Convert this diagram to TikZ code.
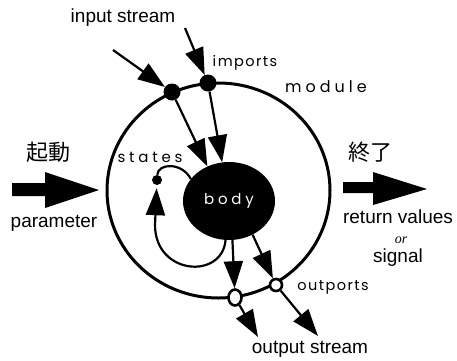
\documentclass[tikz,border=0pt]{standalone}
\usepackage{fontspec}
\setmainfont{Liberation Sans}
\newfontfamily\geo[LetterSpace=25]{Poppins}
\newfontfamily\geonarrow[LetterSpace=10]{Poppins}
\newfontfamily\serifit{Liberation Serif}
\newfontfamily\cjk{Noto Sans CJK JP}
\usetikzlibrary{arrows.meta,shapes.geometric}
\begin{document}
\begin{tikzpicture}[x=1pt,y=-1pt,
  line/.style={line width=2.2pt},
  arr/.style={line width=2.2pt,-{Triangle[length=27pt,width=19pt]}},
  port/.style={circle,fill=black,inner sep=0pt,minimum size=17pt},
  oport/.style={draw=black,fill=white,line width=2.6pt,inner sep=0pt},
  lab/.style={font=\fontsize{19}{22}\selectfont,inner sep=0pt},
  glab/.style={font=\geo\fontsize{15}{18}\selectfont,inner sep=0pt},
  nlab/.style={font=\geonarrow\fontsize{14.5}{18}\selectfont,inner sep=0pt},
  cj/.style={font=\cjk\fontsize{22}{24}\selectfont,inner sep=0pt}]
\useasboundingbox (0,0) rectangle (457,360);
% module outline
\node[ellipse,draw,line width=3pt,minimum width=223pt,minimum height=215pt,inner sep=0pt] (module) at (218.5,190.5) {};
% body
\node[ellipse,fill=black,minimum width=92pt,minimum height=78pt,inner sep=0pt,
      text=white,font=\geo\fontsize{15}{18}\selectfont] (body) at (229,201) {body};
% ports
\node[port] (p1) at (172,92) {};
\node[port] (p2) at (208,83) {};
\node[circle,fill=black,minimum size=10pt,inner sep=0pt] (sd) at (157,180) {};
\node[oport,ellipse,minimum width=13pt,minimum height=16pt] (o1) at (235,297.5) {};
\node[oport,circle,minimum size=12pt] (o2) at (276,285) {};
% free ends
\coordinate (i1) at (113,50);
\coordinate (i2) at (185,28);
\coordinate (s1) at (258,337);
\coordinate (s2) at (318,336);
% connectors
\draw[arr] (i1) -- (p1);
\draw[arr] (i2) -- (p2);
\draw[arr] (p1) -- (body.122);
\draw[arr] (p2) -- (body.100);
\draw[arr] (body.275) -- (o1);
\draw[arr] (body.305) -- (o2);
\draw[arr] (o1) -- (s1);
\draw[arr] (o2) -- (s2);
\draw[line] (sd) .. controls (158,163) and (182,162) .. (body.150);
\draw[arr,shorten >=3pt] (body.265) .. controls (222,280) and (155,275) .. (155,225) -- (sd);
% fat arrows
\fill (12,183) -- (45,183) -- (45,172) -- (99,190) -- (45,208) -- (45,196) -- (12,196) -- cycle;
\fill (343,182) -- (373,182) -- (373,172) -- (427,189) -- (373,205) -- (373,193) -- (343,193) -- cycle;
% labels
\node[lab] (tin) at (123,18) {input stream};
\node[nlab] (timp) at (245,63) {imports};
\node[glab,font=\geo\fontsize{16}{18}\selectfont] (tmod) at (326,87) {module};
\node[glab] (tst) at (150,157) {states};
\node[nlab] (tout) at (333,287) {outports};
\node[lab] (tos) at (310,349) {output stream};
\node[lab] (tpar) at (54,223) {parameter};
\node[lab] (tret) at (398,217) {return values};
\node[font=\serifit\itshape\fontsize{14}{16}\selectfont,inner sep=0pt,text height=6pt,text depth=0pt] (tor) at (401,240) {or};
\node[lab] (tsig) at (398,258) {signal};
\node[cj] (tq) at (48,152) {起動};
\node[cj] (tr) at (370,152) {終了};
\end{tikzpicture}
\end{document}
